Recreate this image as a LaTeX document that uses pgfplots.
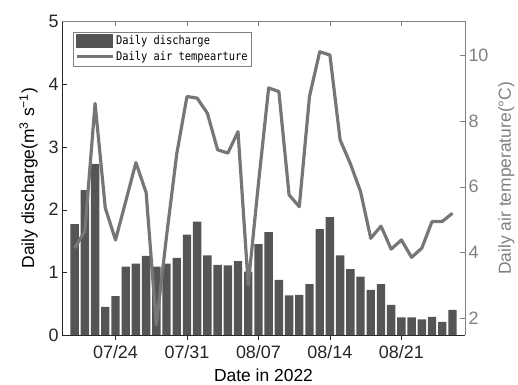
\documentclass[border=0pt]{standalone}
\usepackage{fontspec}
\setmainfont{Liberation Sans}
\newfontfamily\legfont[FakeStretch=0.87]{DejaVu Sans Mono}
\usepackage{pgfplots}
\usepackage{pgfplotstable}
\pgfplotsset{compat=1.18}
\definecolor{barc}{RGB}{85,85,85}
\definecolor{linec}{RGB}{118,118,118}
\definecolor{axc}{RGB}{38,38,38}
\definecolor{rightc}{RGB}{128,128,128}

\pgfplotsset{
  barleg/.style={legend image code/.code={\draw[##1] (0bp,-6.5bp) rectangle (36bp,6.5bp);}},
  lineleg/.style={legend image code/.code={\draw[##1] (0bp,0bp) -- (36bp,0bp);}},
}

% daily discharge, day 0 = 07/20
\pgfplotstableread{
day q
0 1.77
1 2.31
2 2.73
3 0.45
4 0.62
5 1.09
6 1.14
7 1.26
8 1.09
9 1.14
10 1.23
11 1.60
12 1.81
13 1.27
14 1.12
15 1.11
16 1.18
17 1.01
18 1.45
19 1.64
20 0.88
21 0.63
22 0.64
23 0.81
24 1.69
25 1.88
26 1.27
27 1.05
28 0.93
29 0.72
30 0.81
31 0.48
32 0.28
33 0.28
34 0.25
35 0.29
36 0.21
37 0.40
}\discharge

% daily air temperature
\pgfplotstableread{
day t
0 4.13
1 4.65
2 8.53
3 5.35
4 4.38
5 5.55
6 6.73
7 5.82
8 1.80
9 4.50
10 7.00
11 8.74
12 8.69
13 8.23
14 7.12
15 7.02
16 7.67
17 3.01
18 6.10
19 9.00
20 8.89
21 5.75
22 5.39
23 8.74
24 10.10
25 10.00
26 7.42
27 6.70
28 5.85
29 4.43
30 4.80
31 4.10
32 4.38
33 3.85
34 4.13
35 4.94
36 4.94
37 5.19
}\airtemp

\begin{document}
\begin{tikzpicture}
\path[use as bounding box] (-62bp,-50bp) rectangle (456bp,335bp);
\pgfplotsset{
  common/.style={
    width=403bp, height=313.5bp, scale only axis,
    xmin=-1.24, xmax=38.23,
    /pgf/number format/assume math mode=true,
    tick label style={font=\fontsize{18}{18}\selectfont},
    label style={font=\fontsize{17.5}{17.5}\selectfont},
    tick align=inside,
    major tick length=5bp,
    xtick={4,11,18,25,32},
  }
}
\begin{axis}[common,
  axis x line*=bottom, axis y line*=left,
  ymin=0, ymax=5, ytick={0,1,2,3,4,5},
  xticklabels={07/24,07/31,08/07,08/14,08/21},
  xticklabel style={yshift=-2bp},
  xlabel={Date in 2022},
  xlabel style={yshift=-3bp},
  ylabel={Daily discharge(m\textsuperscript{3} s\textsuperscript{−1})},
  ylabel shift=4bp,
  axis line style={axc, line width=0.7pt},
  tick style={axc},
  ticklabel style={axc},
  ybar, bar width=0.82,
]
\addplot[fill=barc, draw=none] table[x=day, y=q] {\discharge};
\end{axis}

\begin{axis}[common,
  axis x line*=top, axis y line*=right,
  ymin=1.49, ymax=11.02, ytick={2,4,6,8,10},
  xticklabels={},
  ylabel={Daily air temperature(°C)},
  ylabel shift=3bp,
  axis line style={rightc, line width=0.7pt},
  tick style={rightc},
  yticklabel style={rightc},
  ylabel style={rightc},
  legend cell align=left,
  legend style={at={(0.0266,0.968)}, anchor=north west,
    draw=rightc, fill=white, font=\legfont\fontsize{12}{14}\selectfont,
    inner sep=2bp, row sep=1bp},
]
\addlegendimage{fill=barc, draw=barc, barleg}
\addplot[linec, line width=3.2pt, line join=round, lineleg]
  table[x=day, y=t] {\airtemp};
\legend{Daily discharge, Daily air tempearture}
\end{axis}
\end{tikzpicture}
\end{document}
